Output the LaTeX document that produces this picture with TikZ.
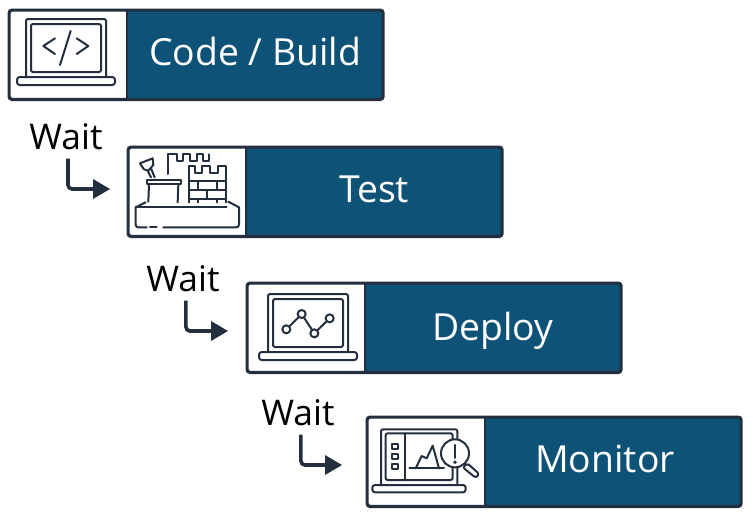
\documentclass[tikz,border=0pt]{standalone}
\usepackage{fontspec}
\setmainfont{Open Sans}
\definecolor{ink}{HTML}{232F3E}
\definecolor{stageblue}{HTML}{0F5278}
\tikzset{
  x=0.75pt,y=-0.75pt,
  stagebox/.style={draw=ink,line width=2.4pt,fill=white,rounded corners=2.2pt,anchor=north west,
    minimum width=280.5pt,minimum height=67pt,inner sep=0pt,
    path picture={\fill[stageblue] ([xshift=88.5pt]path picture bounding box.south west) rectangle (path picture bounding box.north east);
      \draw[ink,line width=1.6pt] ([xshift=88.5pt]path picture bounding box.south west) -- ([xshift=88.5pt,yshift=67.5pt]path picture bounding box.south west);}},
  stagelabel/.style={text=white,font=\fontsize{28}{30}\selectfont,inner sep=0pt,anchor=base},
  waitlabel/.style={text=black,font=\fontsize{26.5}{28}\selectfont,inner sep=0pt,anchor=base},
  waitarrow/.style={draw=ink,line width=2.7pt,rounded corners=3pt},
  waithead/.style={fill=ink},
  icon/.style={draw=ink,line width=1.5pt,line join=round,line cap=round},
  zoomed/.style={x=0.25pt,y=-0.25pt},
  laptop/.pic={
    \draw[icon,rounded corners=1.5pt] (0,58)--(0,0)--(80,0)--(80,58);
    \draw[icon,rounded corners=1.5pt] (5,5) rectangle (75,53);
    \draw[icon,rounded corners=2pt] (-9,58) -- (89,58) -- (89,66) -- (-9,66) -- cycle;
  }
}
\begin{document}
\begin{tikzpicture}
\useasboundingbox (0,0) rectangle (753,525);
% stages
\node[stagebox] (b1) at (7.5,8.5) {};
\node[stagebox] (b2) at (126.5,145.5) {};
\node[stagebox] (b3) at (245.5,281.5) {};
\node[stagebox] (b4) at (365.5,415.5) {};
\node[stagelabel] (l1) at (255,65) {Code / Build};
\node[stagelabel] (l2) at (374,202) {Test};
\node[stagelabel] (l3) at (493,340) {Deploy};
\node[stagelabel] (l4) at (605,472) {Monitor};
% waits
\node[waitlabel] (w1) at (66,149) {Wait};
\node[waitlabel] (w2) at (183,291) {Wait};
\node[waitlabel] (w3) at (298,425) {Wait};
\coordinate (e1) at (96,189);
\coordinate (e2) at (214,331);
\coordinate (e3) at (329,465);
\draw[waitarrow] ([xshift=1.5pt,yshift=-6.75pt]w1.south) |- (e1);
\draw[waitarrow] ([xshift=2.2pt,yshift=-6.75pt]w2.south) |- (e2);
\draw[waitarrow] ([xshift=2.2pt,yshift=-6.75pt]w3.south) |- (e3);
\fill[waithead] (93,179) -- (110,189) -- (93,199) -- cycle;
\fill[waithead] (211,321) -- (228,331) -- (211,341) -- cycle;
\fill[waithead] (325,455) -- (342,465) -- (325,475) -- cycle;
% code icon
\pic at (26,19) {laptop};
\begin{scope}[zoomed]
\draw[icon] (165,115)--(130,138)--(165,162);
\draw[icon] (230,115)--(265,138)--(230,162);
\draw[icon] (212,93)--(180,195);
\end{scope}
% castle icon
\begin{scope}[zoomed]
\draw[icon] (440,540) rectangle (543,553);
\draw[icon] (447,553)--(445,605);
\draw[icon] (535,553)--(533,607);
\draw[icon] (420,490)--(458,475)--(460,495)--(445,512)--(432,508)--cycle;
\draw[icon] (443,512)--(453,532);
\draw[icon] (453,505)--(464,532);
\draw[icon] (503,522)--(503,463)--(530,463)--(530,483)--(548,483)--(548,463)--(570,463)--(570,483)--(590,483)--(590,463)--(610,463)--(610,483)--(628,483)--(628,463);
\draw[icon] (567,607)--(567,497)--(585,497)--(585,520)--(607,520)--(607,497)--(630,497)--(630,520)--(655,520)--(655,497)--(677,497)--(677,607);
\draw[icon] (567,543)--(677,543) (567,570)--(677,570) (567,597)--(677,597);
\draw[icon] (595,543)--(595,570) (650,543)--(650,570) (620,570)--(620,597) (595,597)--(595,607) (650,597)--(650,607);
\draw[icon] (407,620)--(680,620);
\draw[icon] (437,607)--(407,622);
\draw[icon,rounded corners=2pt] (407,622)--(407,682)--(440,682);
\draw[icon] (450,682)--(470,682);
\draw[icon,rounded corners=2pt] (490,682)--(717,682)--(717,622);
\draw[icon] (717,622)--(685,605);
\end{scope}
% deploy icon
\pic at (268,294) {laptop};
\begin{scope}[shift={(240,270)},zoomed]
\draw[icon] (139,178)--(185,132)--(223,190)--(269,145);
\foreach \cx/\cy in {139/178,185/132,223/190,269/145}
  \draw[icon,fill=white] (\cx,\cy) circle[radius=3pt];
\end{scope}
% monitor icon
\begin{scope}[shift={(240,270)},zoomed]
\draw[icon,rounded corners=1.5pt] (423,645)--(423,478)--(652,478)--(652,645);
\draw[icon,rounded corners=1.5pt] (437,490) rectangle (638,630);
\draw[icon,rounded corners=2pt] (397,645)--(677,645)--(677,667)--(397,667)--cycle;
\draw[icon] (495,490)--(495,630);
\foreach \sy in {522,552,582}
  \draw[icon] (457,\sy) rectangle (473,\sy+15);
\draw[icon] (508,595)--(612,595);
\draw[icon] (527,595)--(545,558)--(560,565)--(578,527)--(597,595);
\draw[icon,fill=white,rounded corners=2pt] (668,592)--(682,580)--(718,612)--(708,624)--cycle;
\draw[icon,fill=white] (645,550) circle[radius=10.5pt];
\draw[icon,line width=2pt] (645,525)--(645,563);
\fill[ink] (645,577) circle[radius=1.4pt];
\end{scope}
\end{tikzpicture}
\end{document}
